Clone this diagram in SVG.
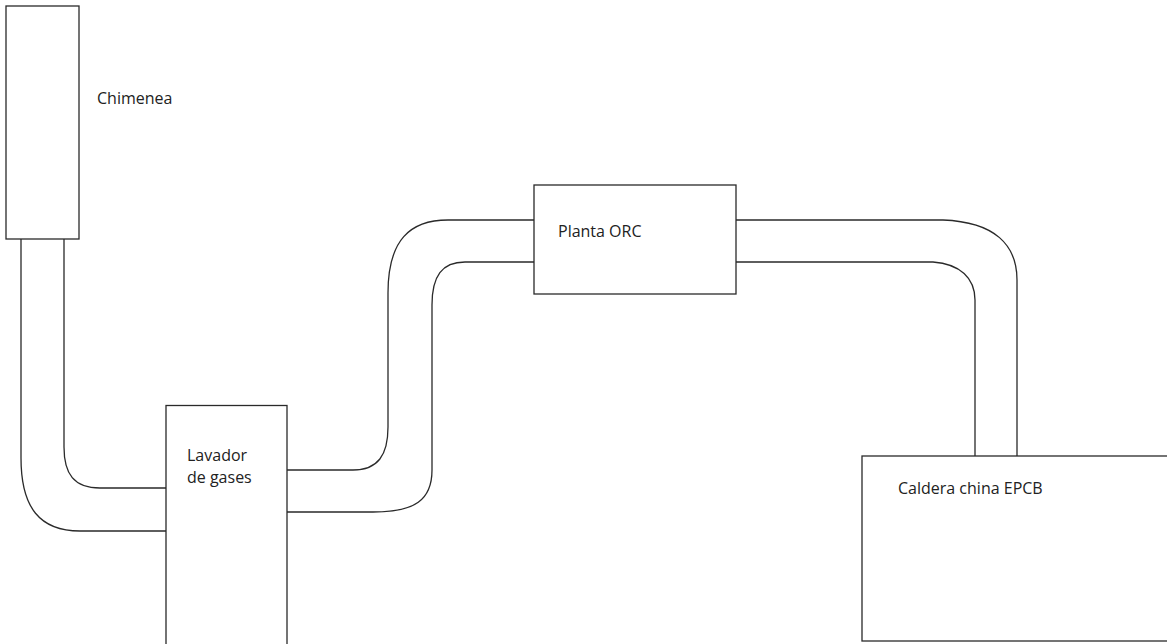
<svg xmlns="http://www.w3.org/2000/svg" width="1167" height="644" viewBox="0 0 1167 644">
<style>
.box{fill:#fff;stroke:#2a2a2a;stroke-width:1.3}
.pipe{fill:none;stroke:#2a2a2a;stroke-width:1.3}
.lbl{font-family:"Open Sans","Noto Sans",sans-serif;font-size:16px;fill:#222}
</style>
<rect width="1167" height="644" fill="#fff"/>
<g id="connectors">
<path class="pipe" d="M21,239 V458 C21,508 40,531 80,531 H166"/>
<path class="pipe" d="M64,239 V447 C64,474 74,488 100,488 H166"/>
<path class="pipe" d="M287,470 H353 C378,470 388,455 388,427 V293 C388,240 410,220 448,220 H534"/>
<path class="pipe" d="M287,512 H373 C415,512 432,500 432,470 V305 C432,276 442,262 465,262 H534"/>
<path class="pipe" d="M736,220 H943 C995,222 1017,245 1017,280 V456"/>
<path class="pipe" d="M736,262 H933 C960,264 975,278 975,300 V456"/>
</g>
<g id="chimenea">
<rect class="box" x="6" y="6" width="73" height="233"/>
<text class="lbl" x="97" y="104">Chimenea</text>
</g>
<g id="lavador">
<rect class="box" x="166" y="405.5" width="121" height="250"/>
<text class="lbl" x="187" y="461">Lavador</text>
<text class="lbl" x="187" y="483">de gases</text>
</g>
<g id="planta">
<rect class="box" x="534" y="185" width="202" height="109"/>
<text class="lbl" x="558" y="237">Planta ORC</text>
</g>
<g id="caldera">
<rect class="box" x="862" y="456" width="320" height="185"/>
<text class="lbl" x="898" y="494">Caldera china EPCB</text>
</g>
</svg>
